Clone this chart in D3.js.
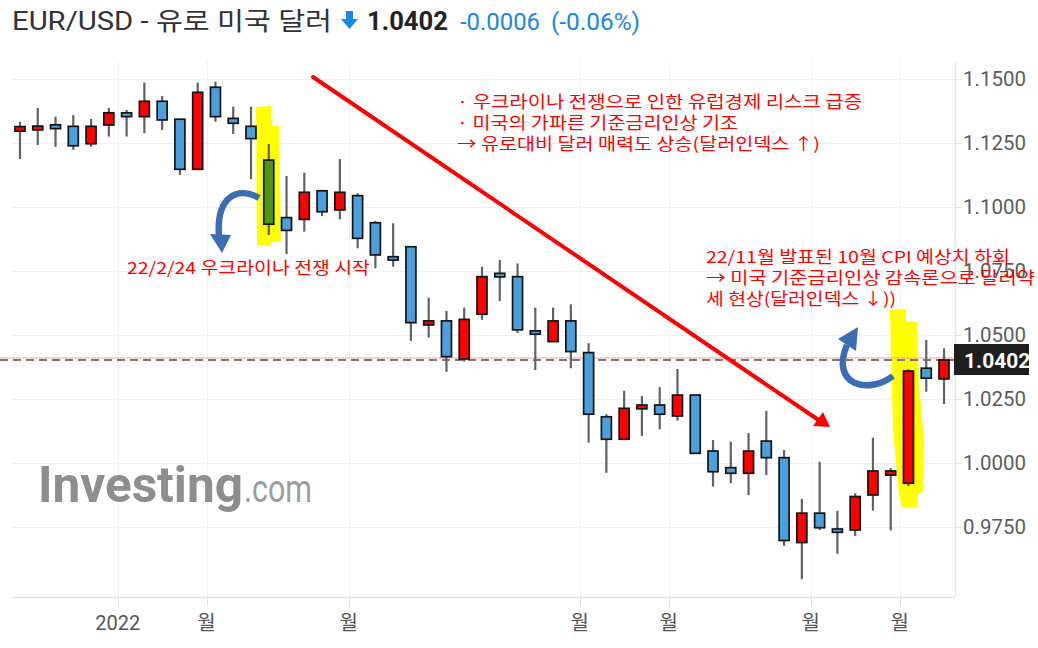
<!DOCTYPE html>
<html><head><meta charset="utf-8">
<script src="https://cdn.jsdelivr.net/npm/d3@7"></script>
<style>
html,body{margin:0;padding:0;background:#fff;}
svg{display:block;}
</style>
</head><body>
<svg id="chart" width="1038" height="648"></svg>
<script>
// ---------- DATA ----------
const weeks = ["2021-11-21","2021-11-28","2021-12-05","2021-12-12","2021-12-19","2021-12-26",
"2022-01-02","2022-01-09","2022-01-16","2022-01-23","2022-01-30","2022-02-06","2022-02-13","2022-02-20","2022-02-27",
"2022-03-06","2022-03-13","2022-03-20","2022-03-27","2022-04-03","2022-04-10","2022-04-17","2022-04-24",
"2022-05-01","2022-05-08","2022-05-15","2022-05-22","2022-05-29","2022-06-05","2022-06-12","2022-06-19","2022-06-26",
"2022-07-03","2022-07-10","2022-07-17","2022-07-24","2022-07-31","2022-08-07","2022-08-14","2022-08-21","2022-08-28",
"2022-09-04","2022-09-11","2022-09-18","2022-09-25","2022-10-02","2022-10-09","2022-10-16","2022-10-23","2022-10-30",
"2022-11-06","2022-11-13","2022-11-20"];
const open  = [1.1297,1.1302,1.1322,1.1316,1.1248,1.1321,1.1369,1.1354,1.1414,1.1344,1.1148,1.1469,1.1347,1.1316,1.1184,
1.0959,1.0952,1.1064,1.0989,1.1045,1.0939,1.0806,1.0845,1.0539,1.0555,1.0406,1.0581,1.0741,1.0728,1.0516,1.0474,1.0555,
1.0431,1.0180,1.0092,1.0211,1.0226,1.0183,1.0265,1.0046,0.9981,0.9959,1.0085,1.0020,0.9688,0.9803,0.9741,0.9737,0.9874,
0.9952,0.9920,1.0370,1.0328];
const close = [1.1315,1.1317,1.1307,1.1240,1.1316,1.1369,1.1354,1.1414,1.1341,1.1148,1.1449,1.1354,1.1328,1.1268,1.0933,
1.0909,1.1058,1.0982,1.1058,1.0878,1.0813,1.0793,1.0548,1.0555,1.0415,1.0561,1.0728,1.0727,1.0520,1.0503,1.0555,1.0435,
1.0190,1.0092,1.0213,1.0226,1.0190,1.0265,1.0037,0.9965,0.9959,1.0046,1.0020,0.9696,0.9803,0.9746,0.9728,0.9868,0.9968,
0.9968,1.0359,1.0331,1.0402];
const high  = [1.1334,1.1388,1.1354,1.1360,1.1345,1.1388,1.1380,1.1487,1.1435,1.1344,1.1487,1.1491,1.1393,1.1393,1.1247,
1.1122,1.1135,1.1067,1.1188,1.1054,1.0946,1.0937,1.0845,1.0646,1.0594,1.0607,1.0767,1.0793,1.0780,1.0607,1.0607,1.0620,
1.0468,1.0190,1.0282,1.0261,1.0296,1.0367,1.0265,1.0089,1.0083,1.0116,1.0203,1.0050,0.9859,1.0004,0.9812,0.9881,1.0098,
0.9979,1.0366,1.0480,1.0448];
const low   = [1.1188,1.1243,1.1236,1.1224,1.1236,1.1276,1.1276,1.1289,1.1302,1.1126,1.1145,1.1334,1.1286,1.1110,1.0891,
1.0816,1.0904,1.0965,1.0952,1.0839,1.0761,1.0767,1.0477,1.0490,1.0356,1.0396,1.0559,1.0633,1.0507,1.0363,1.0474,1.0370,
1.0079,0.9961,1.0092,1.0105,1.0131,1.0165,1.0037,0.9907,0.9920,0.9874,0.9952,0.9675,0.9545,0.9737,0.9644,0.9714,0.9813,
0.9735,0.9909,1.0278,1.0230];
const highlightWeek = "2022-02-27";
const lastPrice = 1.0402;
const yTicks = [0.975, 1.0, 1.025, 1.05, 1.075, 1.1, 1.125, 1.15];
const xTickWeeks  = ["2022-01-02","2022-02-06","2022-04-03","2022-07-03","2022-08-07","2022-10-02","2022-11-06"];
const xTickLabels = ["2022","월","월","월","월","월","월"];

// ---------- SETUP ----------
const svg = d3.select("#chart");
const plot = {left: 12, right: 955, top: 62, bottom: 597};
const x = d3.scaleBand().domain(weeks).range([11.1, 952.9]).padding(0);
const y = d3.scaleLinear().domain([0.975, 1.15]).range([526.7, 79.3]);
const bodyW = 10;
const cx = d => x(d) + x.bandwidth()/2;

// gridlines
const grid = svg.append("g");
grid.selectAll("line.h").data(yTicks).join("line")
  .attr("x1", plot.left).attr("x2", plot.right)
  .attr("y1", d => Math.round(y(d))+0.5).attr("y2", d => Math.round(y(d))+0.5)
  .attr("stroke", "#f0f0f2").attr("stroke-width", 1);
grid.selectAll("line.v").data(xTickWeeks).join("line")
  .attr("x1", d => Math.round(x(d))+0.5).attr("x2", d => Math.round(x(d))+0.5)
  .attr("y1", plot.top).attr("y2", plot.bottom)
  .attr("stroke", "#f0f0f2").attr("stroke-width", 1);

// axes lines
svg.append("line").attr("x1", plot.left).attr("x2", plot.right)
  .attr("y1", plot.bottom+0.5).attr("y2", plot.bottom+0.5).attr("stroke", "#e1e4ec").attr("stroke-width", 1.5);
svg.append("line").attr("x1", plot.right+0.5).attr("x2", plot.right+0.5)
  .attr("y1", plot.top).attr("y2", plot.bottom).attr("stroke", "#e4e6ee").attr("stroke-width", 1.5);

// x ticks & labels
const xa = svg.append("g");
xa.selectAll("line").data(xTickWeeks).join("line")
  .attr("x1", d => Math.round(x(d))+0.5).attr("x2", d => Math.round(x(d))+0.5)
  .attr("y1", plot.bottom).attr("y2", plot.bottom+9)
  .attr("stroke", "#dcdfe6").attr("stroke-width", 1);
xa.selectAll("text").data(xTickWeeks).join("text")
  .attr("x", d => x(d)).attr("y", 630)
  .attr("text-anchor", "middle")
  .attr("font-family", "Roboto, 'Noto Sans CJK KR', sans-serif")
  .attr("font-size", 20).attr("fill", "#555")
  .text((d,i) => xTickLabels[i]);

// y axis (right)
const yAxis = d3.axisRight(y).tickValues(yTicks).tickSize(6).tickPadding(2).tickFormat(d3.format(".4f"));
const ya = svg.append("g").attr("transform", `translate(${plot.right},0)`).call(yAxis);
ya.select(".domain").remove();
ya.selectAll(".tick line").attr("stroke", "#dcdfe6");
ya.selectAll(".tick text").attr("font-family", "Roboto, sans-serif").attr("font-size", 20.5).attr("fill", "#5c5c5c");

// watermark
const wm = svg.append("g");
wm.append("text").attr("x", 38).attr("y", 502)
  .attr("font-family", "Roboto, sans-serif").attr("font-weight", 700).attr("font-size", 50)
  .attr("fill", "#8e8e8e").attr("textLength", 205).attr("lengthAdjust", "spacingAndGlyphs").text("Investing");
wm.append("text").attr("x", 244).attr("y", 502)
  .attr("font-family", "Roboto, sans-serif").attr("font-weight", 400).attr("font-size", 38)
  .attr("fill", "#9c9c9c").attr("textLength", 68).attr("lengthAdjust", "spacingAndGlyphs").text(".com");

// yellow highlights (annotation)
svg.append("path").attr("fill", "#ffff00")
  .attr("d", "M256,107 L271,106 L272,126 L279,126 L281,241 L272,242 L271,245 L257,245 Z");
svg.append("path").attr("fill", "#ffff00")
  .attr("d", "M890,310 L906,309 L906,321 L917,322 L919,385 L924,440 L923,492 L918,494 L917,507 L902,507 L899,494 L893,430 L891,360 Z");

// last price line
const yp = y(lastPrice);
svg.append("line").attr("x1", 0).attr("x2", plot.right).attr("y1", yp-2).attr("y2", yp-2)
  .attr("stroke", "#ff9a9a").attr("stroke-width", 1);
svg.append("line").attr("x1", 0).attr("x2", plot.right).attr("y1", yp).attr("y2", yp)
  .attr("stroke", "#7a7a7a").attr("stroke-width", 2.2).attr("stroke-dasharray", "8,5");

// candles
const idx = d3.range(weeks.length);
const cg = svg.append("g");
cg.selectAll("line").data(idx).join("line")
  .attr("x1", i => cx(weeks[i])).attr("x2", i => cx(weeks[i]))
  .attr("y1", i => y(high[i])).attr("y2", i => y(low[i]))
  .attr("stroke", "#5d6366").attr("stroke-width", 2.2);
cg.selectAll("rect").data(idx).join("rect")
  .attr("x", i => cx(weeks[i]) - bodyW/2)
  .attr("width", bodyW)
  .attr("y", i => y(Math.max(open[i], close[i])))
  .attr("height", i => Math.max(2, Math.abs(y(open[i]) - y(close[i]))))
  .attr("fill", i => weeks[i] === highlightWeek ? "#4e9612" : (close[i] > open[i] ? "#ff0000" : "#4a9fdc"))
  .attr("stroke", "#141414").attr("stroke-width", 1.7);

// price tag
svg.append("rect").attr("x", 954).attr("y", yp-16).attr("width", 75).attr("height", 31).attr("fill", "#1e1e1e");
svg.append("text").attr("x", 964).attr("y", yp+8)
  .attr("font-family", "Roboto, sans-serif").attr("font-weight", 700).attr("font-size", 21)
  .attr("fill", "#fff").text(d3.format(".4f")(lastPrice));

// red trend arrow
svg.append("line").attr("x1", 313).attr("y1", 77).attr("x2", 820).attr("y2", 421)
  .attr("stroke", "#ff0000").attr("stroke-width", 4).attr("stroke-linecap", "round");
svg.append("path").attr("fill", "#ff0000").attr("d", "M830,427 L813,426 L823,412 Z");

// blue curved arrows
const blue = "#3b6cb4";
svg.append("path").attr("fill", "none").attr("stroke", blue).attr("stroke-width", 6.5)
  .attr("d", "M259,198 C238,186 216,196 219,236");
svg.append("path").attr("fill", blue).attr("d", "M222,253 L210,234 L231,235 Z");
svg.append("path").attr("fill", "none").attr("stroke", blue).attr("stroke-width", 6.5)
  .attr("d", "M893,376 C868,395 830,385 847,345");
svg.append("path").attr("fill", blue).attr("d", "M858,327 L856,351 L838,339 Z");

// annotation texts
const kr = "'Noto Sans CJK KR', sans-serif";
function note(txt, xx, yy, len) {
  svg.append("text").attr("x", xx).attr("y", yy).attr("font-family", kr).attr("font-size", 16.5)
    .attr("fill", "#ff0000").attr("textLength", len).attr("lengthAdjust", "spacingAndGlyphs").text(txt);
}
note("· 우크라이나 전쟁으로 인한 유럽경제 리스크 급증", 457, 108, 405);
note("· 미국의 가파른 기준금리인상 기조", 457, 129, 281);
note("→ 유로대비 달러 매력도 상승(달러인덱스 ↑)", 457, 150, 363);
note("22/2/24 우크라이나 전쟁 시작", 127, 274, 243);
note("22/11월 발표된 10월 CPI 예상치 하회", 706, 263, 304);
note("→ 미국 기준금리인상 감속론으로 달러약", 706, 284, 329);
note("세 현상(달러인덱스 ↓))", 706, 305, 190);

// title
const tg = svg.append("g");
tg.append("text").attr("x", 12).attr("y", 30)
  .attr("font-family", "Roboto, 'Noto Sans CJK KR', sans-serif").attr("font-size", 25)
  .attr("fill", "#333").attr("textLength", 320).attr("lengthAdjust", "spacingAndGlyphs")
  .text("EUR/USD - 유로 미국 달러");
tg.append("path").attr("fill", "#1a88e0")
  .attr("d", "M346,11 L353,11 L353,19 L358,19 L349.5,29 L341,19 L346,19 Z");
tg.append("text").attr("x", 367).attr("y", 30)
  .attr("font-family", "Roboto, sans-serif").attr("font-weight", 700).attr("font-size", 25)
  .attr("fill", "#222").attr("textLength", 81).attr("lengthAdjust", "spacingAndGlyphs").text("1.0402");
tg.append("text").attr("x", 460).attr("y", 30)
  .attr("font-family", "Roboto, sans-serif").attr("font-size", 23)
  .attr("fill", "#1a88e0").attr("textLength", 80).attr("lengthAdjust", "spacingAndGlyphs").text("-0.0006");
tg.append("text").attr("x", 551).attr("y", 30)
  .attr("font-family", "Roboto, sans-serif").attr("font-size", 23)
  .attr("fill", "#1a88e0").attr("textLength", 89).attr("lengthAdjust", "spacingAndGlyphs").text("(-0.06%)");
</script>
</body></html>
